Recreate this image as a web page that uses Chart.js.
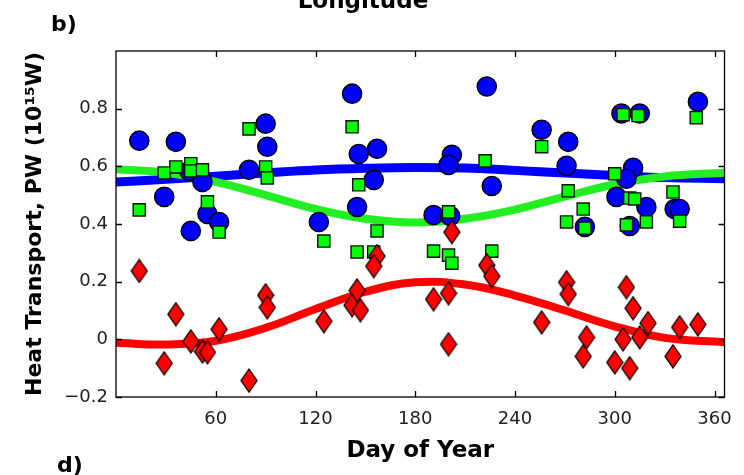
<!DOCTYPE html>
<html><head><meta charset="utf-8">
<script src="https://cdn.jsdelivr.net/npm/chart.js@4.4.1/dist/chart.umd.min.js"></script>
<style>html,body{margin:0;padding:0;background:#fff;overflow:hidden}#wrap{width:744px;height:475px;position:relative}</style>
</head><body><div id="wrap"><canvas id="c"></canvas></div>
<script>
// ---- data ----
const xTickValues = [60, 120, 180, 240, 300, 360];
const yTickValues = [-0.2, 0, 0.2, 0.4, 0.6, 0.8];

const blueDays = [14, 29, 36, 45, 44, 52, 55, 62, 80, 90, 91, 122, 142, 146, 157, 155, 145, 202, 200, 191, 201, 223, 226, 256, 272, 271, 282, 304, 315, 350, 311, 307, 301, 319, 336, 339, 309];
const blueVals = [0.689, 0.494, 0.685, 0.376, 0.584, 0.546, 0.435, 0.407, 0.588, 0.748, 0.668, 0.407, 0.852, 0.643, 0.661, 0.553, 0.459, 0.640, 0.605, 0.431, 0.428, 0.877, 0.532, 0.727, 0.685, 0.602, 0.390, 0.783, 0.783, 0.824, 0.595, 0.557, 0.494, 0.459, 0.452, 0.452, 0.393];

const greenDays = [14, 29, 36, 45, 45, 52, 55, 62, 80, 90, 91, 125, 142, 146, 145, 157, 155, 191, 200, 200, 202, 222, 226, 256, 272, 281, 271, 282, 305, 314, 349, 300, 309, 312, 319, 335, 339, 307];
const greenVals = [0.449, 0.577, 0.598, 0.609, 0.584, 0.588, 0.477, 0.372, 0.730, 0.598, 0.560, 0.341, 0.737, 0.536, 0.303, 0.376, 0.303, 0.306, 0.442, 0.292, 0.264, 0.619, 0.306, 0.668, 0.515, 0.452, 0.407, 0.386, 0.779, 0.776, 0.769, 0.574, 0.490, 0.487, 0.407, 0.511, 0.410, 0.397];

const redDays = [14, 29, 36, 45, 52, 55, 62, 80, 90, 91, 125, 142, 147, 145, 157, 155, 191, 200, 200, 202, 223, 226, 256, 271, 272, 283, 281, 307, 311, 320, 315, 305, 300, 309, 339, 350, 335];
const redVals = [0.237, -0.083, 0.087, -0.007, -0.042, -0.045, 0.035, -0.143, 0.153, 0.111, 0.063, 0.118, 0.101, 0.170, 0.289, 0.254, 0.139, 0.160, -0.017, 0.372, 0.257, 0.219, 0.059, 0.198, 0.157, 0.007, -0.059, 0.181, 0.108, 0.056, 0.007, 0.000, -0.080, -0.100, 0.042, 0.052, -0.059];

const curveDays = [0, 30, 60, 90, 120, 150, 180, 210, 240, 270, 300, 330, 366];
const blueCurve = [0.546, 0.555, 0.566, 0.577, 0.587, 0.593, 0.596, 0.594, 0.586, 0.577, 0.568, 0.561, 0.557];
const greenCurve = [0.590, 0.578, 0.546, 0.500, 0.452, 0.418, 0.405, 0.418, 0.450, 0.495, 0.538, 0.565, 0.578];
const redCurve = [-0.012, -0.018, -0.005, 0.040, 0.105, 0.165, 0.198, 0.190, 0.152, 0.100, 0.045, 0.005, -0.010];

// ---- helpers ----
const pts = (xs, ys) => xs.map((x, i) => ({x: x, y: ys[i]}));
function diamondImage(w, h) {
  const c = document.createElement('canvas');
  c.width = w + 2; c.height = h + 2;
  const g = c.getContext('2d');
  g.beginPath();
  g.moveTo((w + 2) / 2, 1);
  g.lineTo(w + 1, (h + 2) / 2);
  g.lineTo((w + 2) / 2, h + 1);
  g.lineTo(1, (h + 2) / 2);
  g.closePath();
  g.fillStyle = '#ff0000'; g.fill();
  g.lineWidth = 1.3; g.strokeStyle = '#000'; g.stroke();
  return c;
}
const diamond = diamondImage(16, 23);

const framePlugin = {
  id: 'frame',
  afterDraw(chart) {
    const {ctx, chartArea: a, scales} = chart;
    ctx.save();
    ctx.strokeStyle = '#000';
    ctx.lineWidth = 1.3;
    ctx.strokeRect(a.left, a.top, a.right - a.left, a.bottom - a.top);
    const tl = 6;
    ctx.beginPath();
    xTickValues.forEach(v => {
      const px = Math.round(scales.x.getPixelForValue(v)) + 0.5;
      ctx.moveTo(px, a.bottom); ctx.lineTo(px, a.bottom - tl);
      ctx.moveTo(px, a.top); ctx.lineTo(px, a.top + tl);
    });
    yTickValues.forEach(v => {
      const py = Math.round(scales.y.getPixelForValue(v)) + 0.5;
      ctx.moveTo(a.left, py); ctx.lineTo(a.left + tl, py);
      ctx.moveTo(a.right, py); ctx.lineTo(a.right - tl, py);
    });
    ctx.stroke();
    // panel labels and cut-off title
    ctx.fillStyle = '#000';
    ctx.font = 'bold 22px "DejaVu Sans"';
    ctx.textAlign = 'left';
    ctx.textBaseline = 'alphabetic';
    ctx.fillText('b)', 51, 31);
    ctx.fillText('d)', 57, 472);
    ctx.font = 'bold 23px "DejaVu Sans"';
    ctx.textAlign = 'center';
    ctx.fillText('Longitude', 363, 8);
    ctx.restore();
  }
};

new Chart(document.getElementById('c'), {
  type: 'scatter',
  data: {
    datasets: [
      {label: 'red obs', data: pts(redDays, redVals), pointStyle: diamond, pointRadius: 10, order: 0},
      {label: 'green obs', data: pts(greenDays, greenVals), pointStyle: 'rect', pointRadius: 8.6, backgroundColor: '#00ff00', borderColor: '#111', borderWidth: 1.4, order: 1},
      {label: 'blue obs', data: pts(blueDays, blueVals), pointStyle: 'circle', pointRadius: 9.6, backgroundColor: '#0000ff', borderColor: '#000', borderWidth: 1.4, order: 2},
      {label: 'red fit', data: pts(curveDays, redCurve), showLine: true, borderColor: '#ff0000', borderWidth: 8, pointRadius: 0, tension: 0.4, order: 3},
      {label: 'green fit', data: pts(curveDays, greenCurve), showLine: true, borderColor: '#22ee22', borderWidth: 8, pointRadius: 0, tension: 0.4, order: 4},
      {label: 'blue fit', data: pts(curveDays, blueCurve), showLine: true, borderColor: '#0000ff', borderWidth: 9, pointRadius: 0, tension: 0.4, order: 5}
    ]
  },
  options: {
    responsive: true,
    maintainAspectRatio: false,
    animation: false,
    layout: {padding: {top: 51, right: 17, left: 0, bottom: 0}},
    plugins: {legend: {display: false}, tooltip: {enabled: false}},
    scales: {
      x: {
        type: 'linear', min: 0, max: 366,
        afterBuildTicks: s => { s.ticks = xTickValues.map(v => ({value: v})); },
        afterFit: s => { s.height = 78; },
        grid: {display: false, drawTicks: false},
        border: {display: false},
        ticks: {font: {family: 'DejaVu Sans', size: 18}, color: '#222', padding: 12, maxRotation: 0, autoSkip: false},
        title: {display: true, text: 'Day of Year', color: '#000', font: {family: 'DejaVu Sans', size: 23, weight: 'bold'}, padding: {top: 0, bottom: 10}}
      },
      y: {
        type: 'linear', min: -0.2, max: 1.0,
        afterBuildTicks: s => { s.ticks = yTickValues.map(v => ({value: v})); },
        afterFit: s => { s.width = 116; },
        grid: {display: false, drawTicks: false},
        border: {display: false},
        ticks: {
          font: {family: 'DejaVu Sans', size: 18}, color: '#222', padding: 8,
          callback: v => v === 0 ? '0' : (v < 0 ? '\u2212' : '') + Math.abs(v).toFixed(1)
        },
        title: {display: true, text: 'Heat Transport, PW (10\u00b9\u2075W)', color: '#000', font: {family: 'DejaVu Sans', size: 22, weight: 'bold'}, padding: {top: 22, bottom: 0}}
      }
    }
  },
  plugins: [framePlugin]
});
</script>
</body></html>
